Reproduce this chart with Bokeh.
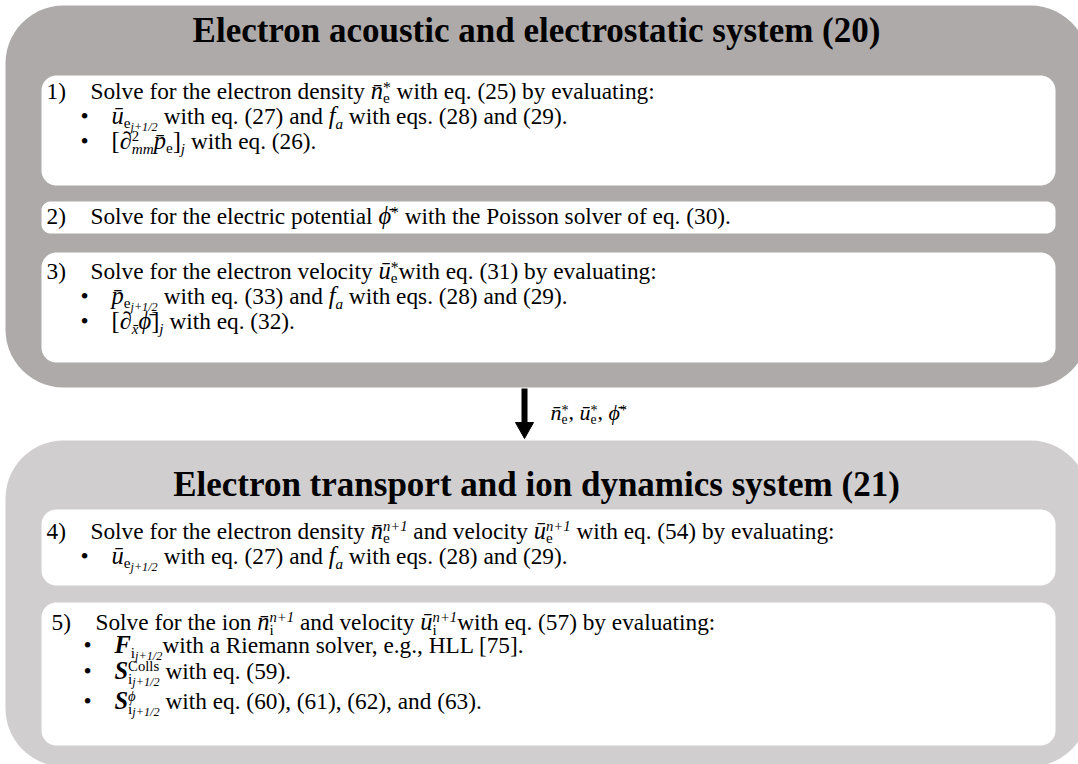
import glob, os, math
from bokeh.plotting import figure
from bokeh.models import Range1d, ColumnDataSource
from bokeh.core.properties import value
from bokeh.embed import file_html
from bokeh.resources import INLINE

# ---------------- content ----------------
BAR = "\u0304"
SYSTEM_TITLES = ["Electron acoustic and electrostatic system (20)",
                 "Electron transport and ion dynamics system (21)"]
SYSTEM_COLORS = ["#aeaaa9", "#d0cecf"]
STEP_NUMBERS = ["1)", "2)", "3)", "4)", "5)"]

STEP_LINES = [
    [  # step 1
        [("t", "Solve for the electron density ", "r"), ("m", "n" + BAR, "i"),
         ("stack", [("star", "*", "r")], [("sub", "e", "r")]),
         ("t", " with eq. (25) by evaluating:", "r")],
        [("m", "u" + BAR, "i"), ("sub", "e", "r"), ("ss", "j+1/2", "i"),
         ("t", " with eq. (27) and ", "r"), ("m", "f", "i"), ("sub", "a", "i"),
         ("t", " with eqs. (28) and (29).", "r")],
        [("m", "[", "r"), ("m", "\u2202", "i"),
         ("stack", [("sup", "2", "r")], [("sub", "mm", "i")]),
         ("m", "p" + BAR, "i"), ("sub", "e", "r"), ("m", "]", "r"), ("sub", "j", "i"),
         ("t", " with eq. (26).", "r")],
    ],
    [  # step 2
        [("t", "Solve for the electric potential ", "r"), ("m", "\u03d5" + BAR, "i"),
         ("star", "*", "r"), ("t", " with the Poisson solver of eq. (30).", "r")],
    ],
    [  # step 3
        [("t", "Solve for the electron velocity ", "r"), ("m", "u" + BAR, "i"),
         ("stack", [("star", "*", "r")], [("sub", "e", "r")]),
         ("t", "with eq. (31) by evaluating:", "r")],
        [("m", "p" + BAR, "i"), ("sub", "e", "r"), ("ss", "j+1/2", "i"),
         ("t", " with eq. (33) and ", "r"), ("m", "f", "i"), ("sub", "a", "i"),
         ("t", " with eqs. (28) and (29).", "r")],
        [("m", "[", "r"), ("m", "\u2202", "i"), ("sub", "x" + BAR, "i"),
         ("m", "\u03d5" + BAR, "i"), ("m", "]", "r"), ("sub", "j", "i"),
         ("t", " with eq. (32).", "r")],
    ],
    [  # step 4
        [("t", "Solve for the electron density ", "r"), ("m", "n" + BAR, "i"),
         ("stack", [("sup", "n+1", "i")], [("sub", "e", "r")]),
         ("t", " and velocity ", "r"), ("m", "u" + BAR, "i"),
         ("stack", [("sup", "n+1", "i")], [("sub", "e", "r")]),
         ("t", " with eq. (54) by evaluating:", "r")],
        [("m", "u" + BAR, "i"), ("sub", "e", "r"), ("ss", "j+1/2", "i"),
         ("t", " with eq. (27) and ", "r"), ("m", "f", "i"), ("sub", "a", "i"),
         ("t", " with eqs. (28) and (29).", "r")],
    ],
    [  # step 5
        [("t", "Solve for the ion ", "r"), ("m", "n" + BAR, "i"),
         ("stack", [("sup", "n+1", "i")], [("sub", "i", "r")]),
         ("t", " and velocity ", "r"), ("m", "u" + BAR, "i"),
         ("stack", [("sup", "n+1", "i")], [("sub", "i", "r")]),
         ("t", "with eq. (57) by evaluating:", "r")],
        [("m", "F", "bi"), ("sub", "i", "r"), ("ss", "j+1/2", "i"),
         ("t", "with a Riemann solver, e.g., HLL [75].", "r")],
        [("m", "S", "bi"),
         ("stack", [("sup", "Colls", "r")], [("sub", "i", "r"), ("ss", "j+1/2", "i")]),
         ("t", " with eq. (59).", "r")],
        [("m", "S", "bi"),
         ("stack", [("sup", "\u03d5", "i")], [("sub", "i", "r"), ("ss", "j+1/2", "i")]),
         ("t", " with eq. (60), (61), (62), and (63).", "r")],
    ],
]
ARROW_LABEL = [("m", "n" + BAR, "i"), ("stack", [("star", "*", "r")], [("sub", "e", "r")]),
               ("m", ", ", "r"), ("m", "u" + BAR, "i"),
               ("stack", [("star", "*", "r")], [("sub", "e", "r")]),
               ("m", ", ", "r"), ("m", "\u03d5" + BAR, "i"), ("star", "*", "r")]

# ---------------- layout ----------------
W, H = 1078, 764
SYS_BOXES = [(5, 5, 1088, 387), (5, 440, 1088, 766)]
SYS_RADIUS = 58
TITLE_X = 536
TITLE_SIZE = 35
TITLE_BASELINES = [43, 497]
STEP_BOXES = [(41, 75, 1055, 185), (41, 201, 1055, 233), (41, 252, 1055, 362),
              (41, 509, 1055, 585), (41, 602, 1055, 745)]
STEP_RADIUS = [15, 9, 15, 15, 15]
LINE_BASELINES = [[99, 124, 149], [224], [279, 304, 329], [539, 564], [630, 653, 679, 709]]
NUM_X = [46, 46, 46, 46, 51]
TEXT_X = [90, 90, 90, 90, 95]
BULLET_X = [80, 80, 80, 80, 83]
BTEXT_X = [111, 111, 111, 111, 114]
BODY = 23.3
MATH = 24.5
BASELINE_FIX = 0.38   # Bokeh svg text sits ~0.38em below the requested alphabetic baseline
ARROW_X, ARROW_Y0, ARROW_Y1 = 524, 388, 438
LABEL_X, LABEL_Y, LABEL_SIZE = 550, 420, 22

# ---------------- font metrics ----------------
_R = {' ': 250, '!': 333, '(': 333, ')': 333, '*': 500, '+': 564, ',': 250, '-': 333, '.': 250,
      '/': 278, ':': 278, ';': 278, '[': 333, ']': 333, '\u2022': 350, '\u2202': 494, '\u03d5': 600,
      'A': 722, 'B': 667, 'C': 667, 'D': 722, 'E': 611, 'F': 556, 'G': 722, 'H': 722, 'I': 333,
      'J': 389, 'K': 722, 'L': 611, 'M': 889, 'N': 722, 'O': 722, 'P': 556, 'Q': 722, 'R': 667,
      'S': 556, 'T': 611, 'U': 722, 'V': 722, 'W': 944, 'X': 722, 'Y': 722, 'Z': 611,
      'a': 444, 'b': 500, 'c': 444, 'd': 500, 'e': 444, 'f': 333, 'g': 500, 'h': 500, 'i': 278,
      'j': 278, 'k': 500, 'l': 278, 'm': 778, 'n': 500, 'o': 500, 'p': 500, 'q': 500, 'r': 333,
      's': 389, 't': 278, 'u': 500, 'v': 500, 'w': 722, 'x': 500, 'y': 500, 'z': 444}
_I = dict(_R)
_I.update({'+': 675, ':': 333, '[': 389, ']': 389, 'A': 611, 'B': 611, 'F': 611, 'K': 667,
           'L': 556, 'M': 833, 'N': 667, 'P': 611, 'R': 611, 'S': 500, 'T': 556, 'V': 611,
           'W': 833, 'X': 611, 'Y': 556, 'Z': 556, 'a': 500, 'f': 278, 'k': 444, 'm': 722,
           'r': 389, 'v': 444, 'w': 667, 'x': 444, 'y': 444, 'z': 389})
_BI = dict(_I)
_BI.update({'F': 667, 'S': 556})
AFM = {"r": _R, "i": _I, "b": _R, "bi": _BI}

try:
    from PIL import ImageFont
except Exception:
    ImageFont = None

FONT_FILES = {"r": ("LiberationSerif-Regular.ttf", "Liberation Serif:style=Regular"),
              "i": ("LiberationSerif-Italic.ttf", "Liberation Serif:style=Italic"),
              "b": ("LiberationSerif-Bold.ttf", "Liberation Serif:style=Bold"),
              "bi": ("LiberationSerif-BoldItalic.ttf", "Liberation Serif:style=Bold Italic")}
_fonts = {}


def _locate(style):
    fname, pattern = FONT_FILES[style]
    try:
        import subprocess
        out = subprocess.run(["fc-match", "-f", "%{file}", pattern], capture_output=True,
                             text=True, timeout=5).stdout.strip()
        if out and os.path.exists(out) and "Liberation" in out:
            return out
    except Exception:
        pass
    for root in ["/usr/share/fonts", "/usr/local/share/fonts", os.path.expanduser("~/.fonts"),
                 os.path.expanduser("~/.local/share/fonts")]:
        hits = glob.glob(os.path.join(root, "**", fname), recursive=True)
        if hits:
            return hits[0]
    return None


def _load(style):
    if style not in _fonts:
        f = None
        if ImageFont is not None:
            path = _locate(style)
            if path:
                try:
                    f = ImageFont.truetype(path, 100)
                    f.getlength("a")
                except Exception:
                    f = None
        _fonts[style] = f
    return _fonts[style]


def text_width(text, size, style):
    f = _load(style)
    if f is not None:
        return f.getlength(text) * size / 100.0
    table = AFM[style]
    return sum(0 if ch == BAR else table.get(ch, 500) for ch in text) * size / 1000.0


STYLE_NAME = {"r": "normal", "i": "italic", "b": "bold", "bi": "bold italic"}
rows = {"x": [], "y": [], "text": [], "size": [], "style": []}


def emit(x, y, text, size, style):
    rows["x"].append(x)
    rows["y"].append(y - BASELINE_FIX * size)
    rows["text"].append(text)
    rows["size"].append(f"{size:.1f}px")
    rows["style"].append(STYLE_NAME[style])


KINDS = {  # size factor, vertical shift factor (both relative to the math size)
    "m": (1.0, 0.0), "sup": (0.6, -0.34), "star": (0.64, -0.24),
    "sub": (0.62, 0.18), "ss": (0.5, 0.31)}


def place(run, x, y, m):
    kind, text, style = run
    if kind == "t":
        size, dy = BODY * m / MATH, 0
    else:
        fs, fd = KINDS[kind]
        size, dy = fs * m, fd * m
    core = text.lstrip(" ")
    lead = len(text) - len(core)
    x0 = x + (text_width(" " * lead, size, style) if lead else 0)
    if core.strip(" "):
        emit(x0, y + dy, core.rstrip(" "), size, style)
    return x + text_width(text, size, style)


def layout(runs, x, y, m):
    for run in runs:
        if run[0] == "stack":
            xa = x
            for r in run[1]:
                xa = place(r, xa, y, m)
            xb = x
            for r in run[2]:
                xb = place(r, xb, y, m)
            x = max(xa, xb)
        else:
            x = place(run, x, y, m)
    return x


def rrect(x0, y0, x1, y1, r, n=14):
    xs, ys = [], []
    for cx, cy, a0 in [(x1 - r, y0 + r, -90), (x1 - r, y1 - r, 0), (x0 + r, y1 - r, 90), (x0 + r, y0 + r, 180)]:
        for k in range(n + 1):
            a = math.radians(a0 + 90 * k / n)
            xs.append(cx + r * math.cos(a))
            ys.append(cy + r * math.sin(a))
    return xs, ys


# ---------------- figure ----------------
p = figure(width=W, height=H, x_range=Range1d(0, W), y_range=Range1d(H, 0),
           output_backend="svg", toolbar_location=None, x_axis_type=None, y_axis_type=None,
           min_border=0, outline_line_color=None, background_fill_color="white",
           border_fill_color="white")

sx, sy = [], []
for (x0, y0, x1, y1) in SYS_BOXES:
    a, b = rrect(x0, y0, x1, y1, SYS_RADIUS)
    sx.append(a)
    sy.append(b)
p.patches(xs=sx, ys=sy, fill_color=SYSTEM_COLORS, line_color=None)

bx, by = [], []
for (x0, y0, x1, y1), r in zip(STEP_BOXES, STEP_RADIUS):
    a, b = rrect(x0, y0, x1, y1, r)
    bx.append(a)
    by.append(b)
p.patches(xs=bx, ys=by, fill_color="white", line_color=None)

# arrow
head_len, head_w, shaft_w = 16, 18, 6
p.segment(x0=[ARROW_X], y0=[ARROW_Y0], x1=[ARROW_X], y1=[ARROW_Y1 - head_len + 1],
          line_width=shaft_w, line_color="black", line_cap="butt")
p.patch(x=[ARROW_X - head_w / 2, ARROW_X + head_w / 2, ARROW_X],
        y=[ARROW_Y1 - head_len, ARROW_Y1 - head_len, ARROW_Y1],
        fill_color="black", line_color="black", line_width=1)

# titles
p.text(x=[TITLE_X] * 2, y=[b - BASELINE_FIX * TITLE_SIZE for b in TITLE_BASELINES],
       text=SYSTEM_TITLES, text_font=value("Liberation Serif"),
       text_font_size=f"{TITLE_SIZE}px", text_font_style="bold", text_align="center",
       text_baseline="alphabetic", text_color="black")

# steps
for i, lines in enumerate(STEP_LINES):
    for j, runs in enumerate(lines):
        yb = LINE_BASELINES[i][j]
        if j == 0:
            emit(NUM_X[i], yb, STEP_NUMBERS[i], BODY, "r")
            layout(runs, TEXT_X[i], yb, MATH)
        else:
            emit(BULLET_X[i], yb, "\u2022", BODY, "r")
            layout(runs, BTEXT_X[i], yb, MATH)

layout(ARROW_LABEL, LABEL_X, LABEL_Y, LABEL_SIZE)

src = ColumnDataSource(rows)
p.text(x="x", y="y", text="text", text_font_size="size", text_font_style="style",
       text_font=value("Liberation Serif"), text_align="left", text_baseline="alphabetic",
       text_color="black", source=src)

open("out.html", "w").write(file_html(p, INLINE))
